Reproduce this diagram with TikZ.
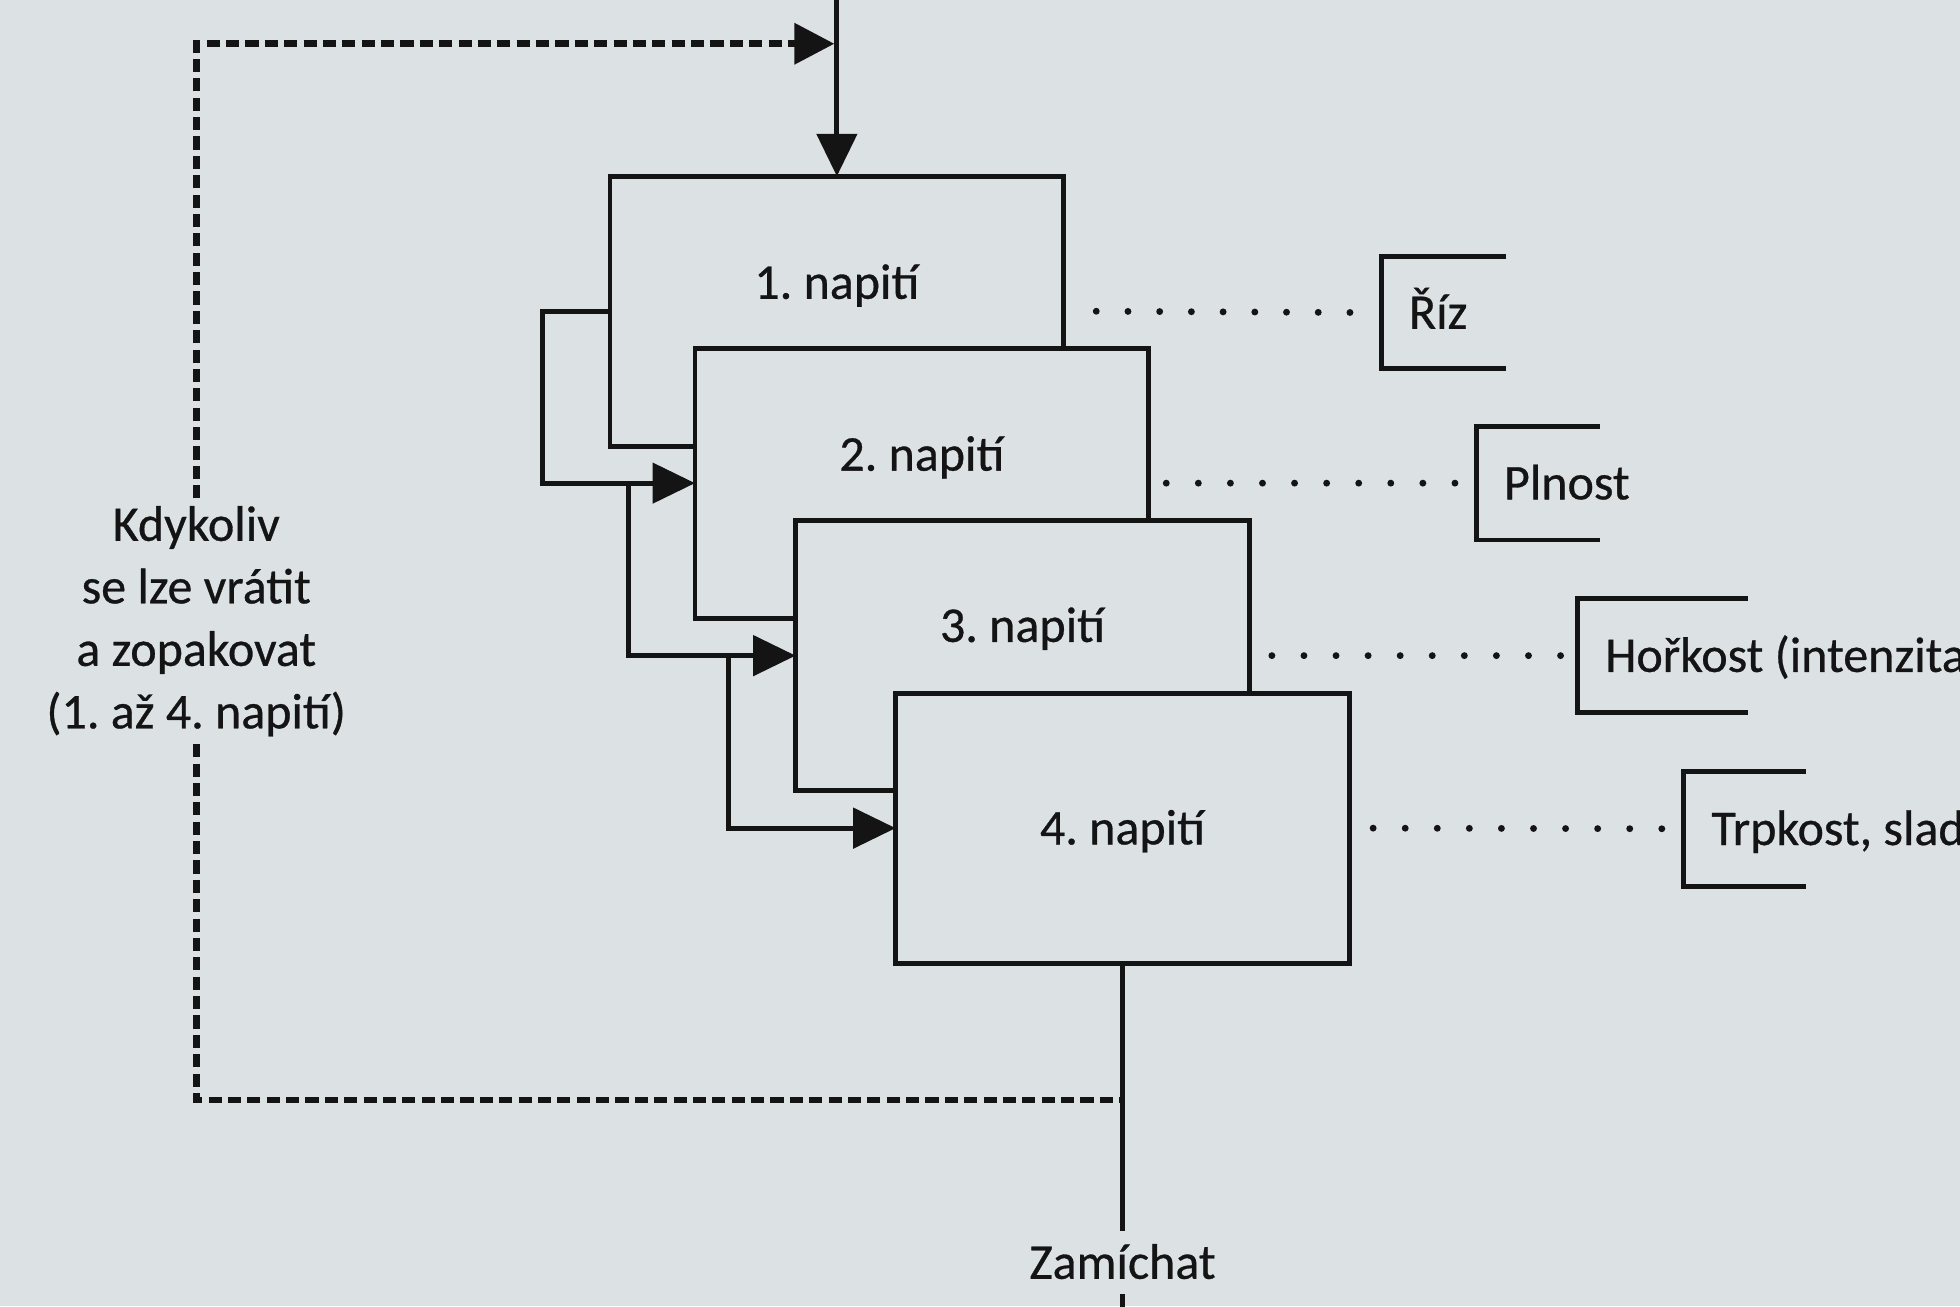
\documentclass[tikz,border=0pt]{standalone}
\usepackage{fontspec}
\setmainfont{Carlito}[UprightFeatures={FakeBold=0.6}]
\usetikzlibrary{arrows.meta,calc}
\definecolor{bg}{RGB}{220,225,227}
\definecolor{ink}{RGB}{20,20,20}
\frenchspacing
\begin{document}
\begin{tikzpicture}[x=1pt,y=-1pt,
  every node/.style={font=\fontsize{40}{50}\selectfont, text=ink},
  stage/.style={draw=ink, fill=bg, line width=3.8pt, minimum width=363pt, minimum height=216pt, outer sep=0pt, inner sep=0pt},
  lbl/.style={text height=34pt, text depth=8pt, inner sep=0pt},
  ln/.style={draw=ink, line width=4pt},
  arr/.style={ln, -{Triangle[length=34pt,width=32pt]}},
  dsh/.style={draw=ink, line width=5.5pt, dash pattern=on 10.5pt off 5pt},
  dotrow/.style={draw=ink, line width=5.5pt, line cap=round, dash pattern=on 0pt off #1},
  tag/.style={lbl, anchor=west, align=left, inner xsep=22pt},
  brk/.style={draw=ink, line width=3.8pt}
]
\fill[bg] (0,0) rectangle (1568,1045);
\useasboundingbox (0,0) rectangle (1568,1045);
\clip (0,0) rectangle (1568,1045);

% stacked stages
\node[stage] (b1) at (669.5,249) {};
\node[stage] (b2) at (737.5,386.5) {};
\node[stage] (b3) at (818,524.5) {};
\node[stage] (b4) at (898,662.5) {};

\node[lbl] (l1) at ([yshift=23pt]b1.center) {1. napití};
\node[lbl] (l2) at ([yshift=23pt]b2.center) {2. napití};
\node[lbl] (l3) at ([yshift=24pt]b3.center) {3. napití};
\node[lbl] (l4) at (b4.center) {4. napití};

% loop arrows
\coordinate (j1) at (503,386.5);
\coordinate (j2) at (583,524.5);
\draw[arr] (b1.west) -- ++(-54,0) |- (b2.west);
\draw[arr] (j1) |- (b3.west);
\draw[arr] (j2) |- (b4.west);

% top input
\coordinate (topin) at (669.5,-10);
\draw[arr] (topin) -- (b1.north);

% dashed return path
\node[align=center, inner xsep=0pt, inner ysep=6pt] (kdy) at (157,497)
  {Kdykoliv\\se lze vrátit\\a zopakovat\\(1.~až 4.~napití)};
\coordinate (dtip) at (667.5,35);
\coordinate (mix) at (898,880);
\draw[dsh, -{Triangle[length=32pt,width=32pt]}] (kdy.north) |- (dtip);
\draw[dsh] (kdy.south) |- (mix);

% output
\node[lbl, minimum height=50pt] (zam) at (898,1010) {Zamíchat};
\coordinate (bot) at (898,1060);
\draw[ln] (b4.south) -- (zam.north);
\draw[ln] (zam.south) -- (bot);

% right-hand tags
\node[tag] (riz) at (1105,250) {Říz};
\node[tag] (pln) at (1181,386.5) {Plnost};
\node[tag] (hor) at (1262,524.5) {Hořkost (intenzita};
\node[tag] (trp) at (1347,663) {Trpkost, slad};

\draw[brk] ([shift={(100,-45)}]riz.west) -| ([shift={(0,45)}]riz.west) -- ++(100,0);
\draw[brk] ([shift={(99,-45.5)}]pln.west) -| ([shift={(0,45.5)}]pln.west) -- ++(99,0);
\draw[brk] ([shift={(136,-45.5)}]hor.west) -| ([shift={(0,45.5)}]hor.west) -- ++(136,0);
\draw[brk] ([shift={(98,-46)}]trp.west) -| ([shift={(0,46)}]trp.west) -- ++(98,0);

% dotted connectors
\draw[dotrow=25.37pt] ([xshift=26pt]b1.east) -- ([xshift=-25pt]riz.west);
\draw[dotrow=25.66pt] ([xshift=14pt]b2.east) -- ([xshift=-17pt]pln.west);
\draw[dotrow=25.66pt] ([xshift=18pt]b3.east) -- ([xshift=-13pt]hor.west);
\draw[dotrow=25.66pt] ([xshift=19pt]b4.east) -- ([xshift=-17pt]trp.west);
\end{tikzpicture}
\end{document}
